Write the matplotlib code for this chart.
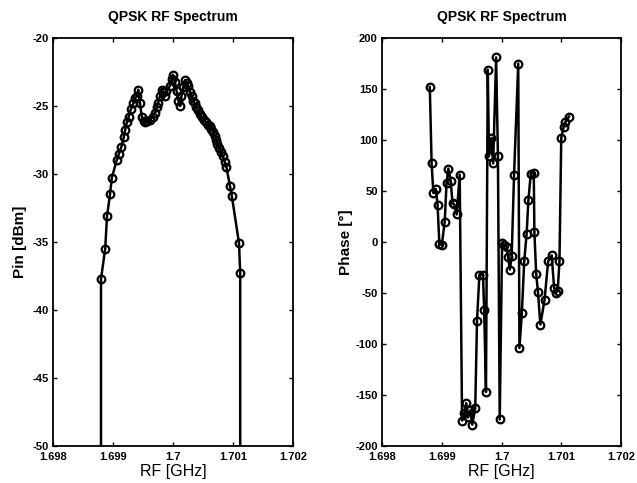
import matplotlib
matplotlib.use("Agg")
import matplotlib.pyplot as plt

plt.rcParams["font.family"] = ["Liberation Sans", "DejaVu Sans"]
plt.rcParams["axes.unicode_minus"] = False

# magnitude spectrum (GHz, dBm)
f_mag = [1.69880, 1.69887, 1.69890, 1.69895, 1.69898, 1.69906, 1.69910, 1.69914,
         1.69918, 1.69920, 1.69923, 1.69926, 1.69930, 1.69934, 1.69937, 1.69940,
         1.69942, 1.69945, 1.69948, 1.69951, 1.69953, 1.69957, 1.69962, 1.69966,
         1.69970, 1.69973, 1.69975, 1.69978, 1.69981, 1.69984, 1.69986, 1.69988,
         1.69995, 1.69998, 1.70000, 1.70003, 1.70006, 1.70009, 1.70012, 1.70014,
         1.70017, 1.70020, 1.70023, 1.70025, 1.70028, 1.70031, 1.70034, 1.70036,
         1.70039, 1.70042, 1.70045, 1.70048, 1.70051, 1.70055, 1.70059, 1.70061,
         1.70064, 1.70067, 1.70070, 1.70072, 1.70074, 1.70077, 1.70080, 1.70083,
         1.70086, 1.70089, 1.70095, 1.70098, 1.70110, 1.70112]
pin = [-37.7, -35.5, -33.1, -31.5, -30.3, -29.0, -28.5, -28.0,
       -27.3, -26.8, -26.2, -25.8, -25.2, -24.8, -24.4, -24.3,
       -23.8, -24.8, -25.8, -26.1, -26.2, -26.1, -26.0, -25.8,
       -25.5, -25.1, -24.8, -24.3, -23.8, -24.0, -24.3, -23.9,
       -23.5, -23.0, -22.7, -23.2, -23.9, -24.6, -25.0, -24.3,
       -23.6, -23.1, -23.3, -23.5, -24.0, -24.3, -24.6, -24.8,
       -25.1, -25.3, -25.6, -25.8, -26.0, -26.2, -26.4, -26.5,
       -26.7, -26.9, -27.2, -27.5, -27.8, -28.1, -28.4, -28.7,
       -29.1, -29.5, -30.9, -31.6, -35.1, -37.3]
# band edges: spectrum falls off the bottom of the axes
pin_floor = -100.0

# phase spectrum (GHz, degrees)
f_ph = [1.69880, 1.69883, 1.69886, 1.69890, 1.69893, 1.69896, 1.69900, 1.69905,
        1.69908, 1.69911, 1.69915, 1.69918, 1.69921, 1.69925, 1.69930, 1.69934,
        1.69938, 1.69941, 1.69944, 1.69948, 1.69951, 1.69956, 1.69959, 1.69963,
        1.69969, 1.69971, 1.69974, 1.69977, 1.69979, 1.69983, 1.69986, 1.69991,
        1.69994, 1.69997, 1.70001, 1.70005, 1.70009, 1.70011, 1.70014, 1.70017,
        1.70021, 1.70028, 1.70030, 1.70034, 1.70038, 1.70042, 1.70045, 1.70049,
        1.70054, 1.70055, 1.70058, 1.70061, 1.70065, 1.70072, 1.70078, 1.70084,
        1.70088, 1.70091, 1.70094, 1.70097, 1.70100, 1.70104, 1.70107, 1.70113]
phase = [152, 77, 48, 52, 36, -2, -3, 20,
         58, 72, 60, 38, 37, 27, 66, -175,
         -168, -158, -172, -165, -179, -163, -77, -32,
         -32, -67, -147, 169, 84, 102, 77, 181,
         84, -174, -1, -3, -5, -15, -27, -14,
         66, 175, -104, -70, -19, 8, 41, 67,
         68, 10, -31, -49, -81, -57, -19, -13,
         -45, -50, -48, -19, 102, 113, 118, 123]

xticks = [1.698, 1.699, 1.700, 1.701, 1.702]
xtick_labels = ["1.698", "1.699", "1.7", "1.701", "1.702"]

fig = plt.figure(figsize=(6.37, 4.83), dpi=100)
ax1 = fig.add_axes([0.0832, 0.0766, 0.3768, 0.8447])
ax2 = fig.add_axes([0.5997, 0.0766, 0.3752, 0.8447])

line_kw = dict(color="k", lw=1.8, marker="o", ms=5.5, mfc="none", mec="k", mew=1.6)

x1 = [f_mag[0]] + f_mag + [f_mag[-1]]
y1 = [pin_floor] + pin + [pin_floor]
ax1.plot(x1, y1, markevery=list(range(1, len(x1) - 1)), **line_kw)
ax1.set_ylim(-50, -20)
ax1.set_yticks([-50, -45, -40, -35, -30, -25, -20])
ax1.set_ylabel("Pin [dBm]", fontsize=11, fontweight="bold", labelpad=4)

ax2.plot(f_ph, phase, **line_kw)
ax2.set_ylim(-200, 200)
ax2.set_yticks(range(-200, 201, 50))
ax2.set_ylabel("Phase [°]", fontsize=11, fontweight="bold", labelpad=2)

for ax in (ax1, ax2):
    ax.set_xlim(1.698, 1.702)
    ax.set_xticks(xticks)
    ax.set_xticklabels(xtick_labels)
    ax.set_xlabel("RF [GHz]", fontsize=11.5, labelpad=2)
    ax.set_title("QPSK RF Spectrum", fontsize=10, fontweight="bold", pad=12)
    ax.tick_params(direction="in", top=True, right=True, length=3, width=1,
                   labelsize=8)
    ax.tick_params(axis="x", pad=4)
    ax.tick_params(axis="y", pad=3)
    for lab in ax.get_xticklabels() + ax.get_yticklabels():
        lab.set_fontweight("bold")
    for s in ax.spines.values():
        s.set_linewidth(1.3)

fig.savefig("out.png", dpi=100)
